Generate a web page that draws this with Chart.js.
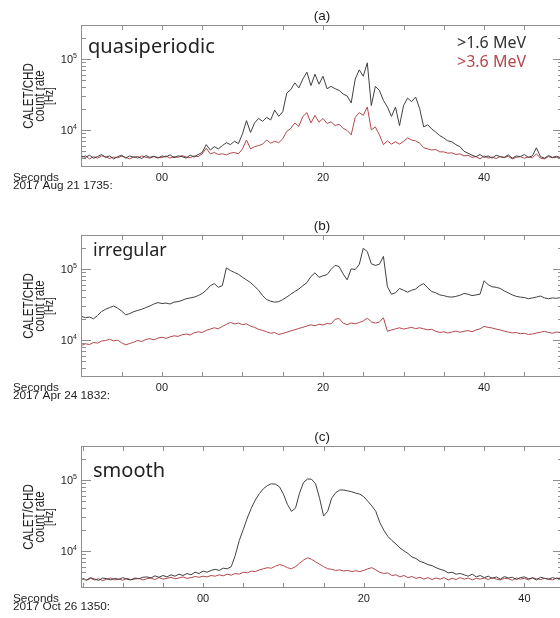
<!DOCTYPE html>
<html>
<head>
<meta charset="utf-8">
<script src="https://cdn.jsdelivr.net/npm/chart.js@4.4.1/dist/chart.umd.min.js"></script>
<style>
  html, body { margin: 0; padding: 0; background: #fff; overflow: hidden; width: 560px; height: 618px; }
  .panel { position: absolute; left: 0; }
</style>
</head>
<body>
<canvas id="pa" class="panel" style="top:0px" width="566" height="200"></canvas>
<canvas id="pb" class="panel" style="top:210px" width="566" height="200"></canvas>
<canvas id="pc" class="panel" style="top:421px" width="566" height="200"></canvas>
<script>
// sampling grid of the read-off values (seconds), one value every 0.5 s
const stepSec = 0.5;
const startA = -10, startB = -10, startC = -15;

// (a) quasiperiodic, 2017 Aug 21 1735
const quasiLow = [
  4300, 4100, 4400, 4000, 4200, 4500, 4100, 4300, 3900, 4200,
  4400, 4000, 4300, 4100, 4200, 3950, 4350, 4100, 4250, 4000,
  4300, 4150, 4450, 4050, 4300, 4200, 4000, 4400, 4150, 4500,
  4800, 6200, 5200, 5800, 5400, 6000, 6600, 6200, 6900, 6400,
  8800, 13500, 9200, 12500, 14500, 13200, 15000, 13800, 19000, 15500,
  18000, 33000, 37000, 46000, 39000, 52000, 65000, 42000, 61000, 44000,
  57000, 38000, 41000, 38000, 36000, 32000, 30000, 24000, 52000, 70000,
  57000, 88000, 22000, 41000, 36000, 26000, 21000, 15500, 21000, 11500,
  22000, 28000, 25000, 29000, 20000, 11000, 11800, 10300, 9300, 8300,
  7700, 7000, 6800, 6200, 5800, 5000, 4700,
  4400, 4200, 4500, 4100, 4300, 4000, 4400, 4200, 4100, 4450,
  4000, 4300, 4200, 4500, 4100, 4300, 5600, 4200, 4000, 4350,
  4100, 4250, 4050
];
const quasiHigh = [
  4100, 4300, 3900, 4200, 4000, 4300, 4200, 3950, 4150, 4050,
  4250, 4100, 3900, 4200, 4000, 4300, 4100, 4000, 4200, 4100,
  4050, 4300, 4000, 4200, 4100, 4350, 4150, 4050, 4300, 4200,
  4600, 5500, 4600, 4800, 4500, 4600, 4450, 4700, 4800, 4600,
  5400, 7200, 5400, 5800, 6000, 6300, 7200, 6500, 6900, 6600,
  7500, 9500, 10500, 12500, 11200, 15500, 17500, 12500, 16000, 12800,
  14500, 12300, 13000, 11500, 12000, 10500, 9800, 8500, 15000, 17500,
  16000, 21000, 10000, 11000, 8500, 6200, 7000, 6300, 6800, 6300,
  6900, 7700, 7200, 7000, 6500, 5600, 5400, 5200, 5300, 4900,
  4900, 4700, 4750, 4500, 4600, 4300, 4400,
  4100, 4200, 3900, 4300, 4000, 4150, 3950, 4200, 4050, 4250,
  3900, 4100, 4200, 4000, 4150, 4050, 4600, 4000, 3900, 4200,
  4050, 4100, 3950
];

// (b) irregular, 2017 Apr 24 1832
const irregLow = [
  21500, 20500, 21000, 19800, 22000, 25000, 27000, 28500, 30000, 28000,
  25500, 22500, 23500, 25000, 26000, 27000, 28500, 30000, 32000, 33500,
  32500, 33000, 32000, 34000, 34500, 36000, 38000, 39000, 40000, 42000,
  45000, 50000, 58000, 62000, 55000, 58000, 103000, 95000, 89000, 84000,
  76000, 70000, 64000, 57000, 50000, 42000, 37000, 35000, 34000, 34500,
  37000, 40000, 44000, 48000, 52000, 58000, 64000, 78000, 88000, 76000,
  80000, 83000, 98000, 112000, 108000, 85000, 70000, 100000, 98000, 115000,
  195000, 175000, 118000, 112000, 116000, 150000, 56000, 44000, 46000, 53000,
  50000, 47000, 50000, 52000, 58000, 62000, 54000, 48000, 46000, 43000,
  42000, 40500, 40000, 41000, 42500, 45000, 44000, 42000, 43000, 44000,
  68000, 60000, 56000, 55000, 53000, 49000, 46000, 43000, 41000, 40000,
  39500, 38000, 39000, 40000, 41500, 39000, 38000, 39000, 38500, 39500
];
const irregHigh = [
  8300, 8800, 8600, 9200, 9000, 9600, 9800, 10200, 9700, 9900,
  9100, 8500, 8900, 9300, 9800, 9500, 10100, 10400, 10000, 10600,
  10900, 10500, 11000, 11400, 11200, 11800, 12100, 11700, 12600, 13000,
  12700, 13600, 14200, 14800, 14300, 15500, 16500, 17600, 16800, 17200,
  16400, 16800, 15600, 15000, 14100, 13600, 13000, 12400, 12700, 11900,
  12300, 12800, 13400, 13900, 14500, 15000, 15700, 16300, 15800, 16600,
  16200, 17000, 16800, 19500, 20000, 17200, 16400, 17300, 16800, 17600,
  18500, 20200, 18000, 17200, 17800, 20500, 13200, 13800, 14300, 14800,
  14200, 14600, 15000, 14400, 14800, 14300, 13900, 14100, 13200, 12700,
  13000, 12500, 12900, 13300, 12800, 13200, 13500, 13000, 13800, 14300,
  15500, 15000, 14700, 14200, 13800, 13300, 12900, 12500, 12700, 12200,
  12400, 11900, 12100, 12500, 12800, 13200, 12700, 12400, 12900, 12600
];

// (c) smooth, 2017 Oct 26 1350
const smoothLow = [
  4100, 3900, 4200, 4000, 3850, 4150, 4050, 3900, 4100, 3950,
  4200, 4000, 3900, 4150, 4050, 4250, 4300, 4150, 4450, 4250,
  4500, 4300, 4600, 4400, 4700, 4500, 4800, 4600, 5000, 4800,
  5200, 5000, 5300, 5500, 5300, 5700, 5600, 6000, 8600, 14000,
  20000, 29000, 40000, 52000, 64000, 75000, 83000, 88000, 87000, 80000,
  63000, 45000, 36000, 40000, 65000, 92000, 103000, 102000, 88000, 55000,
  31000, 36000, 55000, 66000, 72000, 72000, 70000, 68000, 65000, 63000,
  58000, 50000, 43000, 36000, 25000, 19500, 16000, 14000, 12500, 11000,
  10000, 9200, 8200, 7800, 7100, 6800, 6400, 6200, 5800, 5500,
  5300, 4900, 5000, 4700, 4800, 4600, 4400, 4700, 4300, 4500,
  4200, 4400, 4100, 4300, 4000, 4350, 4150, 4250, 3950, 4200,
  4300, 4050, 4150, 3900, 4250, 4100, 4000, 4200, 4050, 4150
];
const smoothHigh = [
  4000, 3850, 4100, 3900, 4050, 3800, 4000, 4150, 3900, 4050,
  3850, 4100, 3950, 4000, 4100, 3900, 4050, 4150, 3950, 4200,
  4000, 4100, 4250, 4050, 4150, 4300, 4100, 4200, 4350, 4250,
  4400, 4300, 4500, 4400, 4600, 4450, 4700, 4550, 4800, 4700,
  5000, 4900, 5200, 5100, 5400, 5600, 5800, 5700, 6100, 6400,
  6200, 5800, 5600, 6000, 6700, 7400, 8000, 7600, 7000, 6500,
  6000, 5600, 5500, 5300, 5400, 5200, 5300, 5100, 5250, 5100,
  5300, 5600, 5800, 5400, 5000, 4800, 4900, 4500, 4600, 4300,
  4500, 4200, 4350, 4100, 4250, 4000, 4200, 3950, 4150, 4000,
  4200, 3900, 4100, 3950, 4200, 4000, 4150, 3900, 4100, 4000,
  4150, 3950, 4200, 4000, 3900, 4100, 4050, 3850, 4150, 4000,
  4100, 3900, 4200, 4050, 3950, 4100, 4000, 3900, 4150, 4050
];

// axes
const yMin = 3000, yMax = 300000;
const yMajor = [1e4, 1e5];
const yMajorExp = ['4', '5'];
const yMinor = [4000, 5000, 6000, 7000, 8000, 9000, 20000, 30000, 40000, 50000, 60000, 70000, 80000, 90000, 200000];
const xTicksAB = [-10, -5, 0, 5, 10, 15, 20, 25, 30, 35, 40, 45];
const xTicksC = [-15, -10, -5, 0, 5, 10, 15, 20, 25, 30, 35, 40];
const xLabelVals = [0, 20, 40];
const xLabelText = ['00', '20', '40'];

const lowColor = '#404040';
const highColor = '#b3474c';

const decor = {
  id: 'decor',
  afterDraw(chart, args, o) {
    const { ctx, chartArea: a, scales: { x, y } } = chart;
    ctx.save();
    ctx.strokeStyle = '#8e8e8e';
    ctx.lineWidth = 1;
    ctx.strokeRect(a.left + 0.5, a.top + 0.5, a.right - a.left - 1, a.bottom - a.top - 1);

    ctx.beginPath();
    o.xTicks.forEach(v => {
      const px = Math.round(x.getPixelForValue(v)) + 0.5;
      ctx.moveTo(px, a.bottom); ctx.lineTo(px, a.bottom - 5);
      ctx.moveTo(px, a.top); ctx.lineTo(px, a.top + 5);
    });
    yMajor.forEach(v => {
      const py = Math.round(y.getPixelForValue(v)) + 0.5;
      ctx.moveTo(a.left, py); ctx.lineTo(a.left + 10, py);
      ctx.moveTo(a.right, py); ctx.lineTo(a.right - 10, py);
    });
    yMinor.forEach(v => {
      const py = Math.round(y.getPixelForValue(v)) + 0.5;
      ctx.moveTo(a.left, py); ctx.lineTo(a.left + 5, py);
      ctx.moveTo(a.right, py); ctx.lineTo(a.right - 5, py);
    });
    ctx.stroke();

    ctx.fillStyle = '#1e1e1e';
    ctx.font = '11px "Liberation Sans", Arial, sans-serif';
    ctx.textAlign = 'center';
    ctx.textBaseline = 'middle';
    xLabelVals.forEach((v, i) => {
      ctx.fillText(xLabelText[i], x.getPixelForValue(v), a.bottom + 11);
    });

    // y tick labels 10^n
    yMajor.forEach((v, i) => {
      const py = y.getPixelForValue(v);
      ctx.textAlign = 'right';
      ctx.font = '7px "Liberation Sans", Arial, sans-serif';
      ctx.fillText(yMajorExp[i], a.left - 4, py - 3);
      const w = ctx.measureText(yMajorExp[i]).width;
      ctx.font = '11px "Liberation Sans", Arial, sans-serif';
      ctx.fillText('10', a.left - 4 - w, py + 1);
    });

    // time caption
    ctx.textAlign = 'left';
    ctx.textBaseline = 'alphabetic';
    ctx.font = '11.8px "Liberation Sans", Arial, sans-serif';
    ctx.fillText('Seconds', 13, a.bottom + 14);
    ctx.fillText(o.date, 13, a.bottom + 22);

    // panel title
    ctx.textAlign = 'center';
    ctx.textBaseline = 'middle';
    ctx.font = '13.5px "Liberation Sans", Arial, sans-serif';
    ctx.fillText(o.title, (a.left + a.right) / 2, a.top - 9);

    // y axis title, three rotated lines
    const cy = (a.top + a.bottom) / 2;
    [['CALET/CHD', 15, 29], ['count rate', 15, 39.5], ['[Hz]', 13, 49]].forEach(([t, s, cx]) => {
      ctx.save();
      ctx.translate(cx, cy);
      ctx.rotate(-Math.PI / 2);
      ctx.scale(0.77, 1);
      ctx.font = s + 'px "Liberation Sans", Arial, sans-serif';
      ctx.fillText(t, 0, 0);
      ctx.restore();
    });

    // event type label
    ctx.textAlign = 'left';
    ctx.textBaseline = 'alphabetic';
    ctx.fillStyle = '#222';
    ctx.font = o.kindSize + 'px "Noto Sans", sans-serif';
    ctx.fillText(o.kind, o.kindX, a.top + o.kindDy);

    if (o.legend) {
      ctx.font = '16px "Noto Sans", sans-serif';
      ctx.fillStyle = '#333';
      ctx.fillText('>1.6 MeV', 457, a.top + 23);
      ctx.fillStyle = highColor;
      ctx.fillText('>3.6 MeV', 457, a.top + 42);
    }
    ctx.restore();
  }
};

function points(start, vals) {
  return vals.map((v, i) => ({ x: start + i * stepSec, y: v }));
}

function makePanel(id, start, low, high, xMin, xMax, deco) {
  new Chart(document.getElementById(id), {
    type: 'line',
    data: {
      datasets: [
        { label: '>1.6 MeV', data: points(start, low), borderColor: lowColor, borderWidth: 1, pointRadius: 0, tension: 0 },
        { label: '>3.6 MeV', data: points(start, high), borderColor: highColor, borderWidth: 1, pointRadius: 0, tension: 0 }
      ]
    },
    options: {
      responsive: false,
      animation: false,
      layout: { padding: { left: 81, right: 3, top: 25, bottom: 33 } },
      plugins: { legend: { display: false }, tooltip: { enabled: false }, decor: deco },
      scales: {
        x: { type: 'linear', min: xMin, max: xMax, display: false },
        y: { type: 'logarithmic', min: yMin, max: yMax, display: false }
      }
    },
    plugins: [decor]
  });
}

makePanel('pa', startA, quasiLow, quasiHigh, -10.05, 49.8,
  { title: '(a)', kind: 'quasiperiodic', kindSize: 20, kindX: 88, kindDy: 28, date: '2017 Aug 21 1735:', xTicks: xTicksAB, legend: true });
makePanel('pb', startB, irregLow, irregHigh, -10.05, 49.8,
  { title: '(b)', kind: 'irregular', kindSize: 18, kindX: 93, kindDy: 21, date: '2017 Apr 24 1832:', xTicks: xTicksAB, legend: false });
makePanel('pc', startC, smoothLow, smoothHigh, -15.2, 44.8,
  { title: '(c)', kind: 'smooth', kindSize: 20, kindX: 93, kindDy: 31, date: '2017 Oct 26 1350:', xTicks: xTicksC, legend: false });
</script>
</body>
</html>
